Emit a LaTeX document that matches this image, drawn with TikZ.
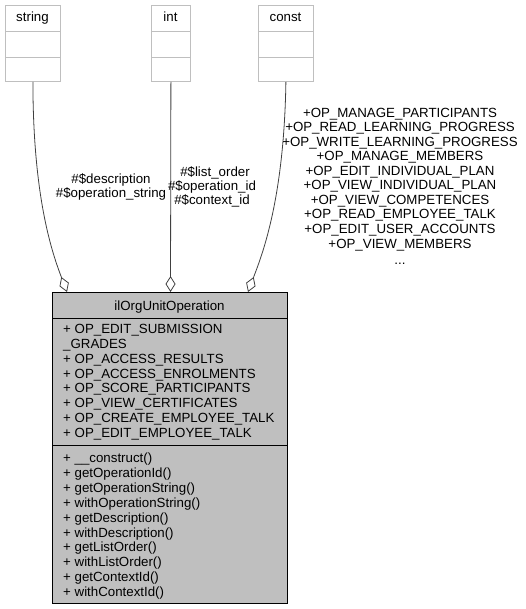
\documentclass[tikz,border=0pt]{standalone}
\usepackage{fontspec}
\setmainfont{Liberation Sans}
\usetikzlibrary{arrows.meta}
\definecolor{boxgray}{HTML}{BFBFBF}
\definecolor{edgegray}{HTML}{404040}
\begin{document}
\begin{tikzpicture}[x=1pt,y=-1pt,
  txt/.style={font=\fontsize{13.3}{15}\selectfont, inner sep=0pt, anchor=base},
  ltxt/.style={txt, anchor=base west},
  smallbox/.style={draw=boxgray, line width=0.8pt, minimum width=55pt, minimum height=76pt, inner sep=0pt, anchor=north west},
  classbox/.style={draw=black, fill=boxgray, line width=0.9pt, minimum width=235pt, minimum height=311pt, inner sep=0pt, anchor=north west},
  edge/.style={draw=edgegray, line width=0.8pt, -{Diamond[open, fill=white, length=16pt, width=10pt]}}]
\useasboundingbox (0,0) rectangle (525,609);

% small boxes
\node[smallbox] (string) at (5,5) {};
\draw[boxgray, line width=0.8pt] ([yshift=-26pt]string.north west) -- ([yshift=-26pt]string.north east)
  ([yshift=-52pt]string.north west) -- ([yshift=-52pt]string.north east);
\node[txt] (stringt) at (32.5,22) {string};

\node[smallbox, minimum width=39pt] (int) at (151,5) {};
\draw[boxgray, line width=0.8pt] ([yshift=-26pt]int.north west) -- ([yshift=-26pt]int.north east)
  ([yshift=-52pt]int.north west) -- ([yshift=-52pt]int.north east);
\node[txt] (intt) at (170.5,22) {int};

\node[smallbox] (const) at (258,5) {};
\draw[boxgray, line width=0.8pt] ([yshift=-26pt]const.north west) -- ([yshift=-26pt]const.north east)
  ([yshift=-52pt]const.north west) -- ([yshift=-52pt]const.north east);
\node[txt] (constt) at (285.5,22) {const};

% main class
\node[classbox] (main) at (52,292) {};
\draw[black, line width=0.9pt] ([yshift=-26pt]main.north west) -- ([yshift=-26pt]main.north east)
  ([yshift=-153pt]main.north west) -- ([yshift=-153pt]main.north east);
\node[txt] (title) at (169.5,310) {ilOrgUnitOperation};

\foreach \t [count=\i from 0] in {+ OP\_EDIT\_SUBMISSION, \_GRADES, + OP\_ACCESS\_RESULTS, + OP\_ACCESS\_ENROLMENTS, + OP\_SCORE\_PARTICIPANTS, + OP\_VIEW\_CERTIFICATES, + OP\_CREATE\_EMPLOYEE\_TALK, + OP\_EDIT\_EMPLOYEE\_TALK}
  \node[ltxt] (attr\i) at (63,333.7+14.8*\i) {\t};

\foreach \t [count=\i from 0] in {+ \_\_construct(), + getOperationId(), + getOperationString(), + withOperationString(), + getDescription(), + withDescription(), + getListOrder(), + withListOrder(), + getContextId(), + withContextId()}
  \node[ltxt] (meth\i) at (63,462.5+14.9*\i) {\t};

% edge endpoints
\coordinate (dl) at (67,292);
\coordinate (dm) at (170.5,292);
\coordinate (dr) at (248,292);

\draw[edge] (string.south) .. controls (33,200) and (53,255) .. (dl);
\draw[edge] (int.south) -- (dm);
\draw[edge] (const.south) .. controls (284,200) and (262,255) .. (dr);

% labels
\node[txt] (ll1) at (111,183.5) {\#\$description};
\node[txt] (ll2) at (111,197.5) {\#\$operation\_string};

\node[txt] (ml1) at (215,176.5) {\#\$list\_order};
\node[txt] (ml2) at (212,191) {\#\$operation\_id};
\node[txt] (ml3) at (212,205) {\#\$context\_id};

\foreach \t [count=\i from 0] in {+OP\_MANAGE\_PARTICIPANTS, +OP\_READ\_LEARNING\_PROGRESS, +OP\_WRITE\_LEARNING\_PROGRESS, +OP\_MANAGE\_MEMBERS, +OP\_EDIT\_INDIVIDUAL\_PLAN, +OP\_VIEW\_INDIVIDUAL\_PLAN, +OP\_VIEW\_COMPETENCES, +OP\_READ\_EMPLOYEE\_TALK, +OP\_EDIT\_USER\_ACCOUNTS, +OP\_VIEW\_MEMBERS}
  \node[txt] (rl\i) at (400,117.5+14.5*\i) {\t};
\node[txt] (rlmore) at (400,264) {...};
\end{tikzpicture}
\end{document}
